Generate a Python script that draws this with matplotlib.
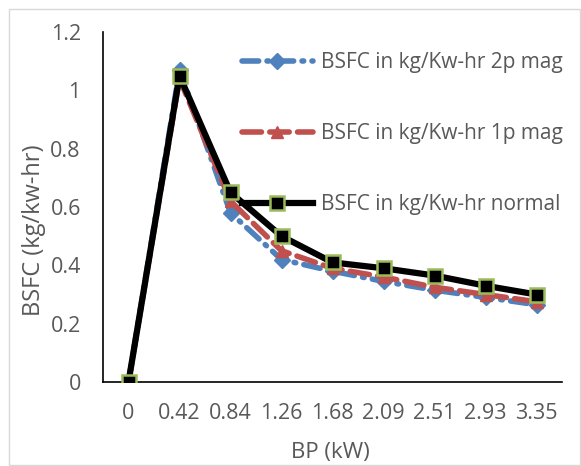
import matplotlib
matplotlib.use("Agg")
import matplotlib.pyplot as plt
import numpy as np

categories = ["0", "0.42", "0.84", "1.26", "1.68", "2.09", "2.51", "2.93", "3.35"]
bsfc_2p = [0, 1.07, 0.58, 0.42, 0.38, 0.345, 0.315, 0.29, 0.265]
bsfc_1p = [0, 1.04, 0.62, 0.45, 0.39, 0.36, 0.325, 0.30, 0.275]
bsfc_normal = [0, 1.05, 0.65, 0.50, 0.41, 0.39, 0.365, 0.33, 0.30]
yticks = [0, 0.2, 0.4, 0.6, 0.8, 1, 1.2]
ytick_labels = ["0", "0.2", "0.4", "0.6", "0.8", "1", "1.2"]

plt.rcParams['font.family'] = ['Open Sans', 'DejaVu Sans']
gray = "#595959"
W, H = 581, 466

fig = plt.figure(figsize=(W/100, H/100), dpi=100)
ax = fig.add_axes([103/W, 1-382/H, (562-103)/W, (382-32)/H])
x = np.arange(len(categories))

ax.plot(x, bsfc_2p, color="#4F81BD", lw=4, linestyle=(0, (3, 1.5, 0.3, 1.5)),
        dash_capstyle="round", marker="D", ms=8, label="BSFC in kg/Kw-hr 2p mag", zorder=2)
ax.plot(x, bsfc_1p, color="#C0504D", lw=4, linestyle=(0, (3.5, 1.5)),
        dash_capstyle="round", marker="^", ms=9, label="BSFC in kg/Kw-hr 1p mag", zorder=3)
ax.plot(x, bsfc_normal, color="black", lw=4.5, marker="s", ms=10, mfc="black",
        mec="#9BBB59", mew=1.8, label="BSFC in kg/Kw-hr normal", zorder=4)

ax.set_xlim(-0.5, len(categories) - 0.5)
ax.set_ylim(0, 1.2)
ax.set_xticks(x)
ax.set_xticklabels(categories)
ax.set_yticks(yticks)
ax.set_yticklabels(ytick_labels)
ax.tick_params(length=0, labelsize=15.5, colors=gray)
ax.tick_params(axis="y", pad=16)
ax.tick_params(axis="x", pad=15)
for s in ["top", "right"]:
    ax.spines[s].set_visible(False)
for s in ["left", "bottom"]:
    ax.spines[s].set_color("black")
    ax.spines[s].set_linewidth(1.2)

ax.set_xlabel("BP (kW)", fontsize=16, color=gray)
ax.set_ylabel("BSFC (kg/kw-hr)", fontsize=17, color=gray)
ax.xaxis.set_label_coords((330-103)/459, -(442-382)/350)
ax.yaxis.set_label_coords((46-103)/459, (382-230)/350)

leg = ax.legend(loc="upper left", bbox_to_anchor=(242/W, 1-52/H), bbox_transform=fig.transFigure,
                frameon=False, borderpad=0, borderaxespad=0,
                fontsize=15, labelcolor=gray, handlelength=3.4, labelspacing=2.4,
                handletextpad=0.38)

fig.patches.append(plt.Rectangle((9/W, 1/H), (W-10)/W, (H-10)/H, transform=fig.transFigure,
                                 fill=False, edgecolor="#d9d9d9", lw=1))
fig.savefig("out.png", dpi=100)
